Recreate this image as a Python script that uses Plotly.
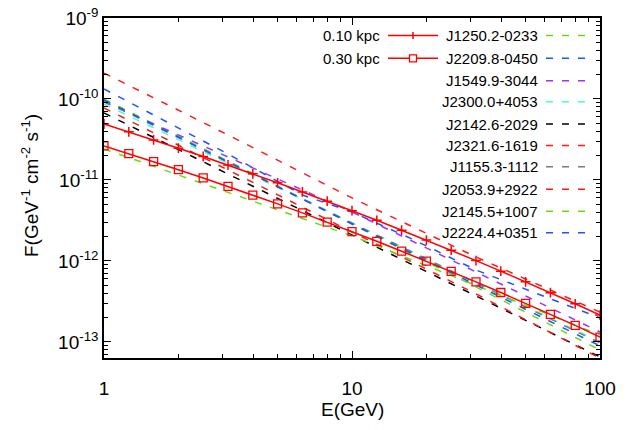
import plotly.graph_objects as go

# ---------------- data ----------------
E_model = [1, 1.259, 1.585, 1.995, 2.512, 3.162, 3.981, 5.012, 6.310, 7.943, 10,
           12.59, 15.85, 19.95, 25.12, 31.62, 39.81, 50.12, 63.10, 79.43, 100]
F_010kpc = [4.91e-11, 3.93e-11, 3.12e-11, 2.47e-11, 1.95e-11, 1.53e-11, 1.19e-11, 9.23e-12,
            7.12e-12, 5.47e-12, 4.18e-12, 3.18e-12, 2.40e-12, 1.81e-12, 1.36e-12, 1.01e-12,
            7.49e-13, 5.52e-13, 4.06e-13, 2.96e-13, 2.15e-13]
F_030kpc = [2.63e-11, 2.11e-11, 1.69e-11, 1.34e-11, 1.06e-11, 8.34e-12, 6.52e-12, 5.07e-12,
            3.92e-12, 3.01e-12, 2.30e-12, 1.75e-12, 1.32e-12, 9.94e-13, 7.43e-13, 5.52e-13,
            4.08e-13, 3.00e-13, 2.19e-13, 1.60e-13, 1.15e-13]

E_src = [1, 3.162, 10, 31.62, 100]
E_J2209 = [1, 3.162, 6.31, 10, 17.78, 31.62, 100]

src_names = ["J1250.2-0233", "J2209.8-0450", "J1549.9-3044", "J2300.0+4053", "J2142.6-2029",
             "J2321.6-1619", "J1155.3-1112", "J2053.9+2922", "J2145.5+1007", "J2224.4+0351"]
F_J1250 = [1.00e-10, 1.72e-11, 2.86e-12, 4.78e-13, 7.96e-14]
F_J2209 = [1.33e-10, 2.09e-11, 6.53e-12, 4.03e-12, 1.82e-12, 7.74e-13, 1.98e-13]
F_J1549 = [9.18e-11, 1.92e-11, 4.03e-12, 7.31e-13, 1.33e-13]
F_J2300 = [8.67e-11, 1.60e-11, 2.94e-12, 5.43e-13, 1.00e-13]
F_J2142 = [6.71e-11, 1.19e-11, 2.09e-12, 3.70e-13, 6.53e-14]
F_J2321 = [7.74e-11, 1.33e-11, 2.28e-12, 3.92e-13, 6.30e-14]
F_J1155 = [9.44e-11, 1.67e-11, 2.94e-12, 5.35e-13, 9.72e-14]
F_J2053 = [2.09e-10, 3.60e-11, 6.00e-12, 1.12e-12, 2.34e-13]
F_J2145 = [2.42e-11, 7.02e-12, 2.04e-12, 4.99e-13, 1.22e-13]
F_J2224 = [9.72e-11, 1.67e-11, 2.86e-12, 5.06e-13, 8.93e-14]

y_tickvals = [1e-9, 1e-10, 1e-11, 1e-12, 1e-13]
y_ticktext = ["10<sup>-9</sup>", "10<sup>-10</sup>", "10<sup>-11</sup>", "10<sup>-12</sup>", "10<sup>-13</sup>"]
x_tickvals = [1, 10, 100]
x_ticktext = ["1", "10", "100"]

# ---------------- style ----------------
FONT = "Liberation Sans, Arial, sans-serif"
RED = "#ff0000"
src_colors = ["#66dd11", "#1a55ff", "#9933ff", "#44ffcc", "#000000",
              "#ff1a1a", "#6f8080", "#ff1a1a", "#66dd11", "#1a55ff"]
src_x = [E_src, E_J2209, E_src, E_src, E_src, E_src, E_src, E_src, E_src, E_src]
src_y = [F_J1250, F_J2209, F_J1549, F_J2300, F_J2142, F_J2321, F_J1155, F_J2053, F_J2145, F_J2224]
DASH = "7px,9px"

fig = go.Figure()
for name, xs, ys, col in zip(src_names, src_x, src_y, src_colors):
    fig.add_trace(go.Scatter(x=xs, y=ys, mode="lines", name=name,
                             line=dict(color=col, width=1.5, dash=DASH)))

fig.add_trace(go.Scatter(x=E_model, y=F_010kpc, mode="lines+markers", name="0.10 kpc",
                         line=dict(color=RED, width=1.5),
                         marker=dict(symbol="cross-thin", size=7, line=dict(color=RED, width=1.5))))
fig.add_trace(go.Scatter(x=E_model, y=F_030kpc, mode="lines+markers", name="0.30 kpc",
                         line=dict(color=RED, width=1.5),
                         marker=dict(symbol="square-open", size=8, color=RED, line=dict(color=RED, width=1.3))))

# ---------------- layout ----------------
L, R, T, B = 104, 600, 18, 358
W, H = 643, 430

def px(xp):
    return (xp - L) / (R - L)

def py(yp):
    return (B - yp) / (B - T)

axis_common = dict(showline=True, linecolor="black", linewidth=1.5, mirror="ticks",
                   ticks="inside", ticklen=7, tickwidth=1, tickcolor="black",
                   showgrid=False, zeroline=False, automargin=False,
                   ticklabeloverflow="allow",
                   tickfont=dict(family=FONT, size=19, color="black"))

fig.update_layout(
    width=W, height=H, autosize=False,
    margin=dict(l=L, r=W - R, t=T, b=H - B, autoexpand=False),
    paper_bgcolor="white", plot_bgcolor="white",
    showlegend=False,
    font=dict(family=FONT, size=19, color="black"),
    xaxis=dict(type="log", range=[0, 2], tickvals=x_tickvals, ticktext=x_ticktext,
               ticklabelstandoff=12,
               minor=dict(ticks="inside", ticklen=4, tickcolor="black", dtick="D1", showgrid=False),
               **axis_common),
    yaxis=dict(type="log", range=[-13.198, -9], tickvals=y_tickvals, ticktext=y_ticktext,
               minor=dict(ticks="inside", ticklen=4, tickcolor="black", dtick="D1", showgrid=False),
               **axis_common),
)

shapes = []
annotations = []

# axis titles
annotations.append(dict(x=px(352), y=py(410), xref="paper", yref="paper", text="E(GeV)",
                        showarrow=False, xanchor="center", yanchor="middle",
                        font=dict(family=FONT, size=19, color="black")))
annotations.append(dict(x=px(30), y=py(186), xref="paper", yref="paper",
                        text="F(GeV<sup>-1</sup> cm<sup>-2</sup> s<sup>-1</sup>)",
                        textangle=-90, showarrow=False, xanchor="center", yanchor="middle",
                        font=dict(family=FONT, size=19, color="black")))

# ---------------- manual gnuplot-style legend ----------------
model_rows = [("0.10 kpc", 35.5, "plus"), ("0.30 kpc", 58.3, "square")]
for label, yrow, mk in model_rows:
    annotations.append(dict(x=px(382), y=py(yrow), xref="paper", yref="paper", text=label,
                            showarrow=False, xanchor="right", yanchor="middle",
                            font=dict(family=FONT, size=15, color="black")))
    shapes.append(dict(type="line", xref="paper", yref="paper", x0=px(388), x1=px(438),
                       y0=py(yrow), y1=py(yrow), line=dict(color=RED, width=1.5)))
    cx = 413
    if mk == "plus":
        shapes.append(dict(type="line", xref="paper", yref="paper", x0=px(cx), x1=px(cx),
                           y0=py(yrow - 3.5), y1=py(yrow + 3.5), line=dict(color=RED, width=1.5)))
    else:
        shapes.append(dict(type="rect", xref="paper", yref="paper", x0=px(cx - 3.5), x1=px(cx + 3.5),
                           y0=py(yrow - 3.5), y1=py(yrow + 3.5), line=dict(color=RED, width=1.3),
                           fillcolor="white"))

row_y = [35.5, 58.3, 80.7, 101.7, 124, 145.5, 166.7, 189.3, 211.3, 232.7]
for name, col, yrow in zip(src_names, src_colors, row_y):
    annotations.append(dict(x=px(540), y=py(yrow), xref="paper", yref="paper", text=name,
                            showarrow=False, xanchor="right", yanchor="middle",
                            font=dict(family=FONT, size=15, color="black")))
    shapes.append(dict(type="line", xref="paper", yref="paper", x0=px(546), x1=px(590),
                       y0=py(yrow), y1=py(yrow), line=dict(color=col, width=1.5, dash=DASH)))

fig.update_layout(shapes=shapes, annotations=annotations)

# remove the browser's default 8px body margin so the figure sits at the page origin
fig.write_html("out.html", config={"displayModeBar": False},
               post_script="document.body.style.margin='0';")
